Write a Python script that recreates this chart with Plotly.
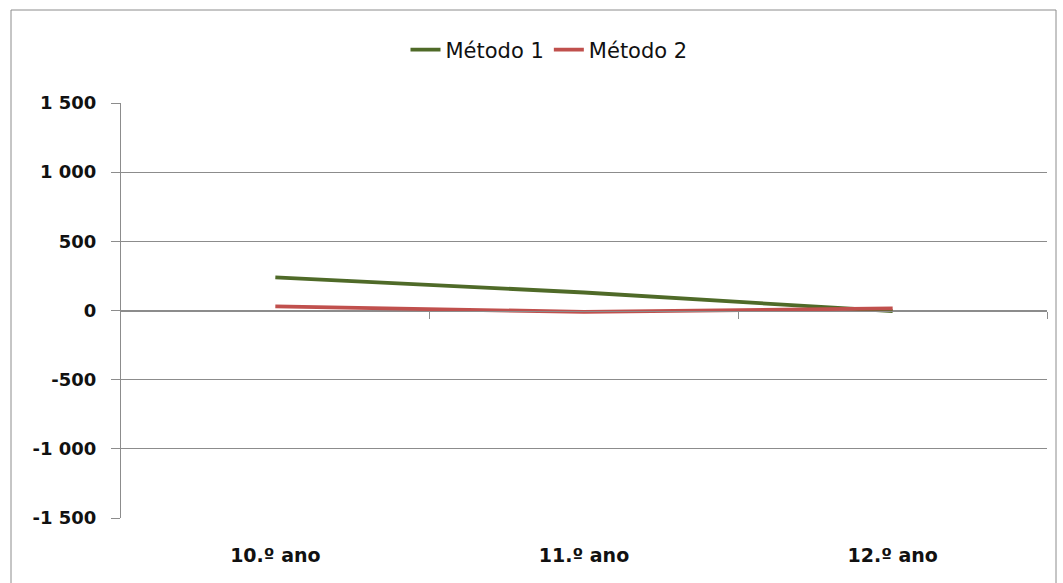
import plotly.graph_objects as go

# Series data
anos = ["10.º ano", "11.º ano", "12.º ano"]
metodo_1 = [240, 130, -5]
metodo_2 = [30, -10, 15]

y_ticks = [-1500, -1000, -500, 0, 500, 1000, 1500]


def fmt(v):
    # thousands separated by a space, plain hyphen for negatives
    s = f"{abs(v):,d}".replace(",", " ")
    return ("-" if v < 0 else "") + s


GRID = "#8c8c8c"
FONT = "DejaVu Sans"

fig = go.Figure()
fig.add_trace(go.Scatter(x=anos, y=metodo_1, name="Método 1", mode="lines",
                         line=dict(color="#4f6a28", width=3.8)))
fig.add_trace(go.Scatter(x=anos, y=metodo_2, name="Método 2", mode="lines",
                         line=dict(color="#c0504d", width=3.8)))
# carrier for the horizontal axis line drawn through zero
fig.add_trace(go.Scatter(x=[None], y=[None], xaxis="x2", yaxis="y",
                         showlegend=False, hoverinfo="skip"))

W, H = 1063, 583
L, R, T, B = 121, 16, 103, 65
pw = W - L - R
ph = H - T - B

fig.update_layout(
    width=W, height=H,
    margin=dict(l=L, r=R, t=T, b=B),
    paper_bgcolor="white", plot_bgcolor="white",
    font=dict(family=FONT, color="#111111"),
    showlegend=True,
    legend=dict(orientation="h", xref="container", yref="container",
                x=549 / W, y=1 - 50 / H, xanchor="center", yanchor="middle",
                font=dict(size=21, family=FONT, color="#111111"),
                bgcolor="rgba(0,0,0,0)", tracegroupgap=0),
    xaxis=dict(type="category", range=[-0.5, 2.5], showline=False,
               showgrid=False, ticks="", zeroline=False,
               tickfont=dict(size=19, family=FONT, weight="bold"),
               ticklabelstandoff=24),
    xaxis2=dict(overlaying="x", anchor="free", position=0.5,
                range=[-0.5, 2.5], showline=True, linecolor=GRID, linewidth=1,
                showgrid=False, zeroline=False, ticks="outside", ticklen=7,
                tickcolor=GRID, tickvals=[0.5, 1.5, 2.5], showticklabels=False),
    yaxis=dict(range=[-1500, 1500], tickvals=y_ticks,
               ticktext=[fmt(v) for v in y_ticks],
               showgrid=True, gridcolor=GRID, gridwidth=1, zeroline=False,
               showline=True, linecolor=GRID, linewidth=1,
               ticks="outside", ticklen=9, tickcolor=GRID,
               tickfont=dict(size=18, family=FONT, weight="bold"),
               ticklabelstandoff=11),
)

# outer chart frame
fig.add_shape(type="rect", xref="paper", yref="paper",
              x0=(11 - L) / pw, x1=(1056 - L) / pw,
              y0=-(B + 10) / ph, y1=1 + (T - 10) / ph,
              line=dict(color=GRID, width=1), fillcolor="rgba(0,0,0,0)",
              layer="below")

fig.write_html("out.html")
